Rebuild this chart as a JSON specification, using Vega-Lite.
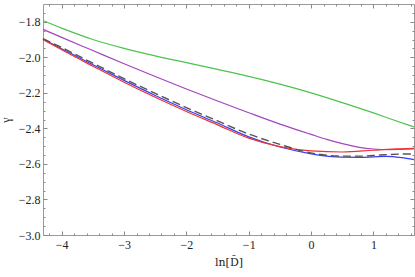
{
  "$schema": "https://vega.github.io/schema/vega-lite/v6.json",
  "width": 371,
  "height": 231,
  "autosize": "none",
  "padding": {"left": 43, "top": 4, "right": 1, "bottom": 42},
  "background": "white",
  "config": {
    "view": {"stroke": "#9a9a9a", "strokeWidth": 1},
    "axis": {"labelFont": "Liberation Serif", "titleFont": "Liberation Serif", "labelColor": "#222", "titleColor": "#222", "grid": false, "tickColor": "#8a8a8a"}
  },
  "datasets": {
    "curves": [
      {"s": "green", "x": -4.3, "y": -1.793}, {"s": "green", "x": -4.0, "y": -1.836}, {"s": "green", "x": -3.5, "y": -1.900},
      {"s": "green", "x": -3.0, "y": -1.950}, {"s": "green", "x": -2.5, "y": -1.992}, {"s": "green", "x": -2.0, "y": -2.030},
      {"s": "green", "x": -1.5, "y": -2.068}, {"s": "green", "x": -1.0, "y": -2.107}, {"s": "green", "x": -0.5, "y": -2.151},
      {"s": "green", "x": 0.0, "y": -2.200}, {"s": "green", "x": 0.5, "y": -2.255}, {"s": "green", "x": 1.0, "y": -2.313},
      {"s": "green", "x": 1.3, "y": -2.350}, {"s": "green", "x": 1.65, "y": -2.392},

      {"s": "purple", "x": -4.3, "y": -1.843}, {"s": "purple", "x": -4.0, "y": -1.888}, {"s": "purple", "x": -3.5, "y": -1.962},
      {"s": "purple", "x": -3.0, "y": -2.036}, {"s": "purple", "x": -2.5, "y": -2.108}, {"s": "purple", "x": -2.0, "y": -2.178},
      {"s": "purple", "x": -1.5, "y": -2.246}, {"s": "purple", "x": -1.0, "y": -2.312}, {"s": "purple", "x": -0.5, "y": -2.376},
      {"s": "purple", "x": 0.0, "y": -2.434}, {"s": "purple", "x": 0.25, "y": -2.462}, {"s": "purple", "x": 0.5, "y": -2.486},
      {"s": "purple", "x": 0.75, "y": -2.505}, {"s": "purple", "x": 1.0, "y": -2.516}, {"s": "purple", "x": 1.25, "y": -2.519},
      {"s": "purple", "x": 1.65, "y": -2.516},

      {"s": "blue", "x": -4.3, "y": -1.897}, {"s": "blue", "x": -4.0, "y": -1.952}, {"s": "blue", "x": -3.5, "y": -2.042},
      {"s": "blue", "x": -3.0, "y": -2.130}, {"s": "blue", "x": -2.5, "y": -2.215}, {"s": "blue", "x": -2.0, "y": -2.295},
      {"s": "blue", "x": -1.5, "y": -2.370}, {"s": "blue", "x": -1.0, "y": -2.448}, {"s": "blue", "x": -0.5, "y": -2.505},
      {"s": "blue", "x": 0.0, "y": -2.543}, {"s": "blue", "x": 0.5, "y": -2.562}, {"s": "blue", "x": 0.8, "y": -2.563},
      {"s": "blue", "x": 1.2, "y": -2.558}, {"s": "blue", "x": 1.45, "y": -2.565}, {"s": "blue", "x": 1.65, "y": -2.576},

      {"s": "red", "x": -4.3, "y": -1.900}, {"s": "red", "x": -4.0, "y": -1.958}, {"s": "red", "x": -3.5, "y": -2.050},
      {"s": "red", "x": -3.0, "y": -2.140}, {"s": "red", "x": -2.5, "y": -2.225}, {"s": "red", "x": -2.0, "y": -2.305},
      {"s": "red", "x": -1.5, "y": -2.380}, {"s": "red", "x": -1.0, "y": -2.455}, {"s": "red", "x": -0.5, "y": -2.503},
      {"s": "red", "x": 0.0, "y": -2.527}, {"s": "red", "x": 0.5, "y": -2.533}, {"s": "red", "x": 1.0, "y": -2.523},
      {"s": "red", "x": 1.3, "y": -2.517}, {"s": "red", "x": 1.65, "y": -2.513},

      {"s": "dashed", "x": -4.3, "y": -1.895}, {"s": "dashed", "x": -4.0, "y": -1.945}, {"s": "dashed", "x": -3.5, "y": -2.033},
      {"s": "dashed", "x": -3.0, "y": -2.120}, {"s": "dashed", "x": -2.5, "y": -2.203}, {"s": "dashed", "x": -2.0, "y": -2.283},
      {"s": "dashed", "x": -1.5, "y": -2.358}, {"s": "dashed", "x": -1.0, "y": -2.432}, {"s": "dashed", "x": -0.5, "y": -2.490},
      {"s": "dashed", "x": 0.0, "y": -2.538}, {"s": "dashed", "x": 0.5, "y": -2.556}, {"s": "dashed", "x": 0.8, "y": -2.556},
      {"s": "dashed", "x": 1.1, "y": -2.550}, {"s": "dashed", "x": 1.4, "y": -2.545}, {"s": "dashed", "x": 1.65, "y": -2.544}
    ]
  },
  "data": {"name": "curves"},
  "resolve": {"axis": {"x": "independent", "y": "independent"}},
  "layer": [
    {
      "transform": [{"filter": "datum.s !== 'dashed'"}],
      "mark": {"type": "line", "strokeWidth": 1.2, "interpolate": "monotone"},
      "encoding": {
        "x": {"field": "x", "type": "quantitative", "scale": {"domain": [-4.3, 1.65], "nice": false, "zero": false},
          "axis": {"orient": "bottom", "values": [-4, -3, -2, -1, 0, 1], "format": "d", "ticks": false, "domain": false, "labelFontSize": 12, "labelPadding": 4, "title": "ln[D\u0303]", "titleFont": "DejaVu Serif", "titleFontSize": 11, "titleFontWeight": "normal", "titlePadding": 6}},
        "y": {"field": "y", "type": "quantitative", "scale": {"domain": [-3.0, -1.7], "nice": false, "zero": false},
          "axis": {"orient": "left", "values": [-3.0, -2.8, -2.6, -2.4, -2.2, -2.0, -1.8], "format": ".1f", "ticks": false, "domain": false, "labelFontSize": 12, "labelPadding": 3, "title": "γ", "titleFontSize": 12, "titleFontWeight": "normal", "titlePadding": 6}},
        "color": {"field": "s", "type": "nominal", "legend": null,
          "scale": {"domain": ["blue", "red", "purple", "green"], "range": ["#3c3cf0", "#f03232", "#a346bd", "#4cc44c"]}}
      }
    },
    {
      "transform": [{"filter": "datum.s === 'dashed'"}],
      "mark": {"type": "line", "strokeWidth": 1.4, "color": "#555555", "strokeDash": [8, 4], "interpolate": "monotone"},
      "encoding": {
        "x": {"field": "x", "type": "quantitative", "axis": {"orient": "bottom", "values": [-4, -3, -2, -1, 0, 1], "labels": false, "domain": false, "title": null, "tickSize": 4, "offset": -4}},
        "y": {"field": "y", "type": "quantitative", "axis": {"orient": "left", "values": [-3.0, -2.8, -2.6, -2.4, -2.2, -2.0, -1.8], "labels": false, "domain": false, "title": null, "tickSize": 4, "offset": -4}}
      }
    },
    {
      "mark": {"type": "line", "opacity": 0},
      "encoding": {
        "x": {"field": "x", "type": "quantitative", "axis": {"orient": "bottom", "values": [-4.2, -3.8, -3.6, -3.4, -3.2, -2.8, -2.6, -2.4, -2.2, -1.8, -1.6, -1.4, -1.2, -0.8, -0.6, -0.4, -0.2, 0.2, 0.4, 0.6, 0.8, 1.2, 1.4, 1.6], "labels": false, "domain": false, "title": null, "tickSize": 2, "offset": -2}},
        "y": {"field": "y", "type": "quantitative", "axis": {"orient": "left", "values": [-2.95, -2.9, -2.85, -2.75, -2.7, -2.65, -2.55, -2.5, -2.45, -2.35, -2.3, -2.25, -2.15, -2.1, -2.05, -1.95, -1.9, -1.85, -1.75], "labels": false, "domain": false, "title": null, "tickSize": 2, "offset": -2}},
        "detail": {"field": "s"}
      }
    },
    {
      "mark": {"type": "line", "opacity": 0},
      "encoding": {
        "x": {"field": "x", "type": "quantitative", "axis": {"orient": "top", "values": [-4, -3, -2, -1, 0, 1], "labels": false, "domain": false, "title": null, "tickSize": 4, "offset": -4}},
        "y": {"field": "y", "type": "quantitative", "axis": {"orient": "right", "values": [-3.0, -2.8, -2.6, -2.4, -2.2, -2.0, -1.8], "labels": false, "domain": false, "title": null, "tickSize": 4, "offset": -4}},
        "detail": {"field": "s"}
      }
    },
    {
      "mark": {"type": "line", "opacity": 0},
      "encoding": {
        "x": {"field": "x", "type": "quantitative", "axis": {"orient": "top", "values": [-4.2, -3.8, -3.6, -3.4, -3.2, -2.8, -2.6, -2.4, -2.2, -1.8, -1.6, -1.4, -1.2, -0.8, -0.6, -0.4, -0.2, 0.2, 0.4, 0.6, 0.8, 1.2, 1.4, 1.6], "labels": false, "domain": false, "title": null, "tickSize": 2, "offset": -2}},
        "y": {"field": "y", "type": "quantitative", "axis": {"orient": "right", "values": [-2.95, -2.9, -2.85, -2.75, -2.7, -2.65, -2.55, -2.5, -2.45, -2.35, -2.3, -2.25, -2.15, -2.1, -2.05, -1.95, -1.9, -1.85, -1.75], "labels": false, "domain": false, "title": null, "tickSize": 2, "offset": -2}},
        "detail": {"field": "s"}
      }
    }
  ]
}
